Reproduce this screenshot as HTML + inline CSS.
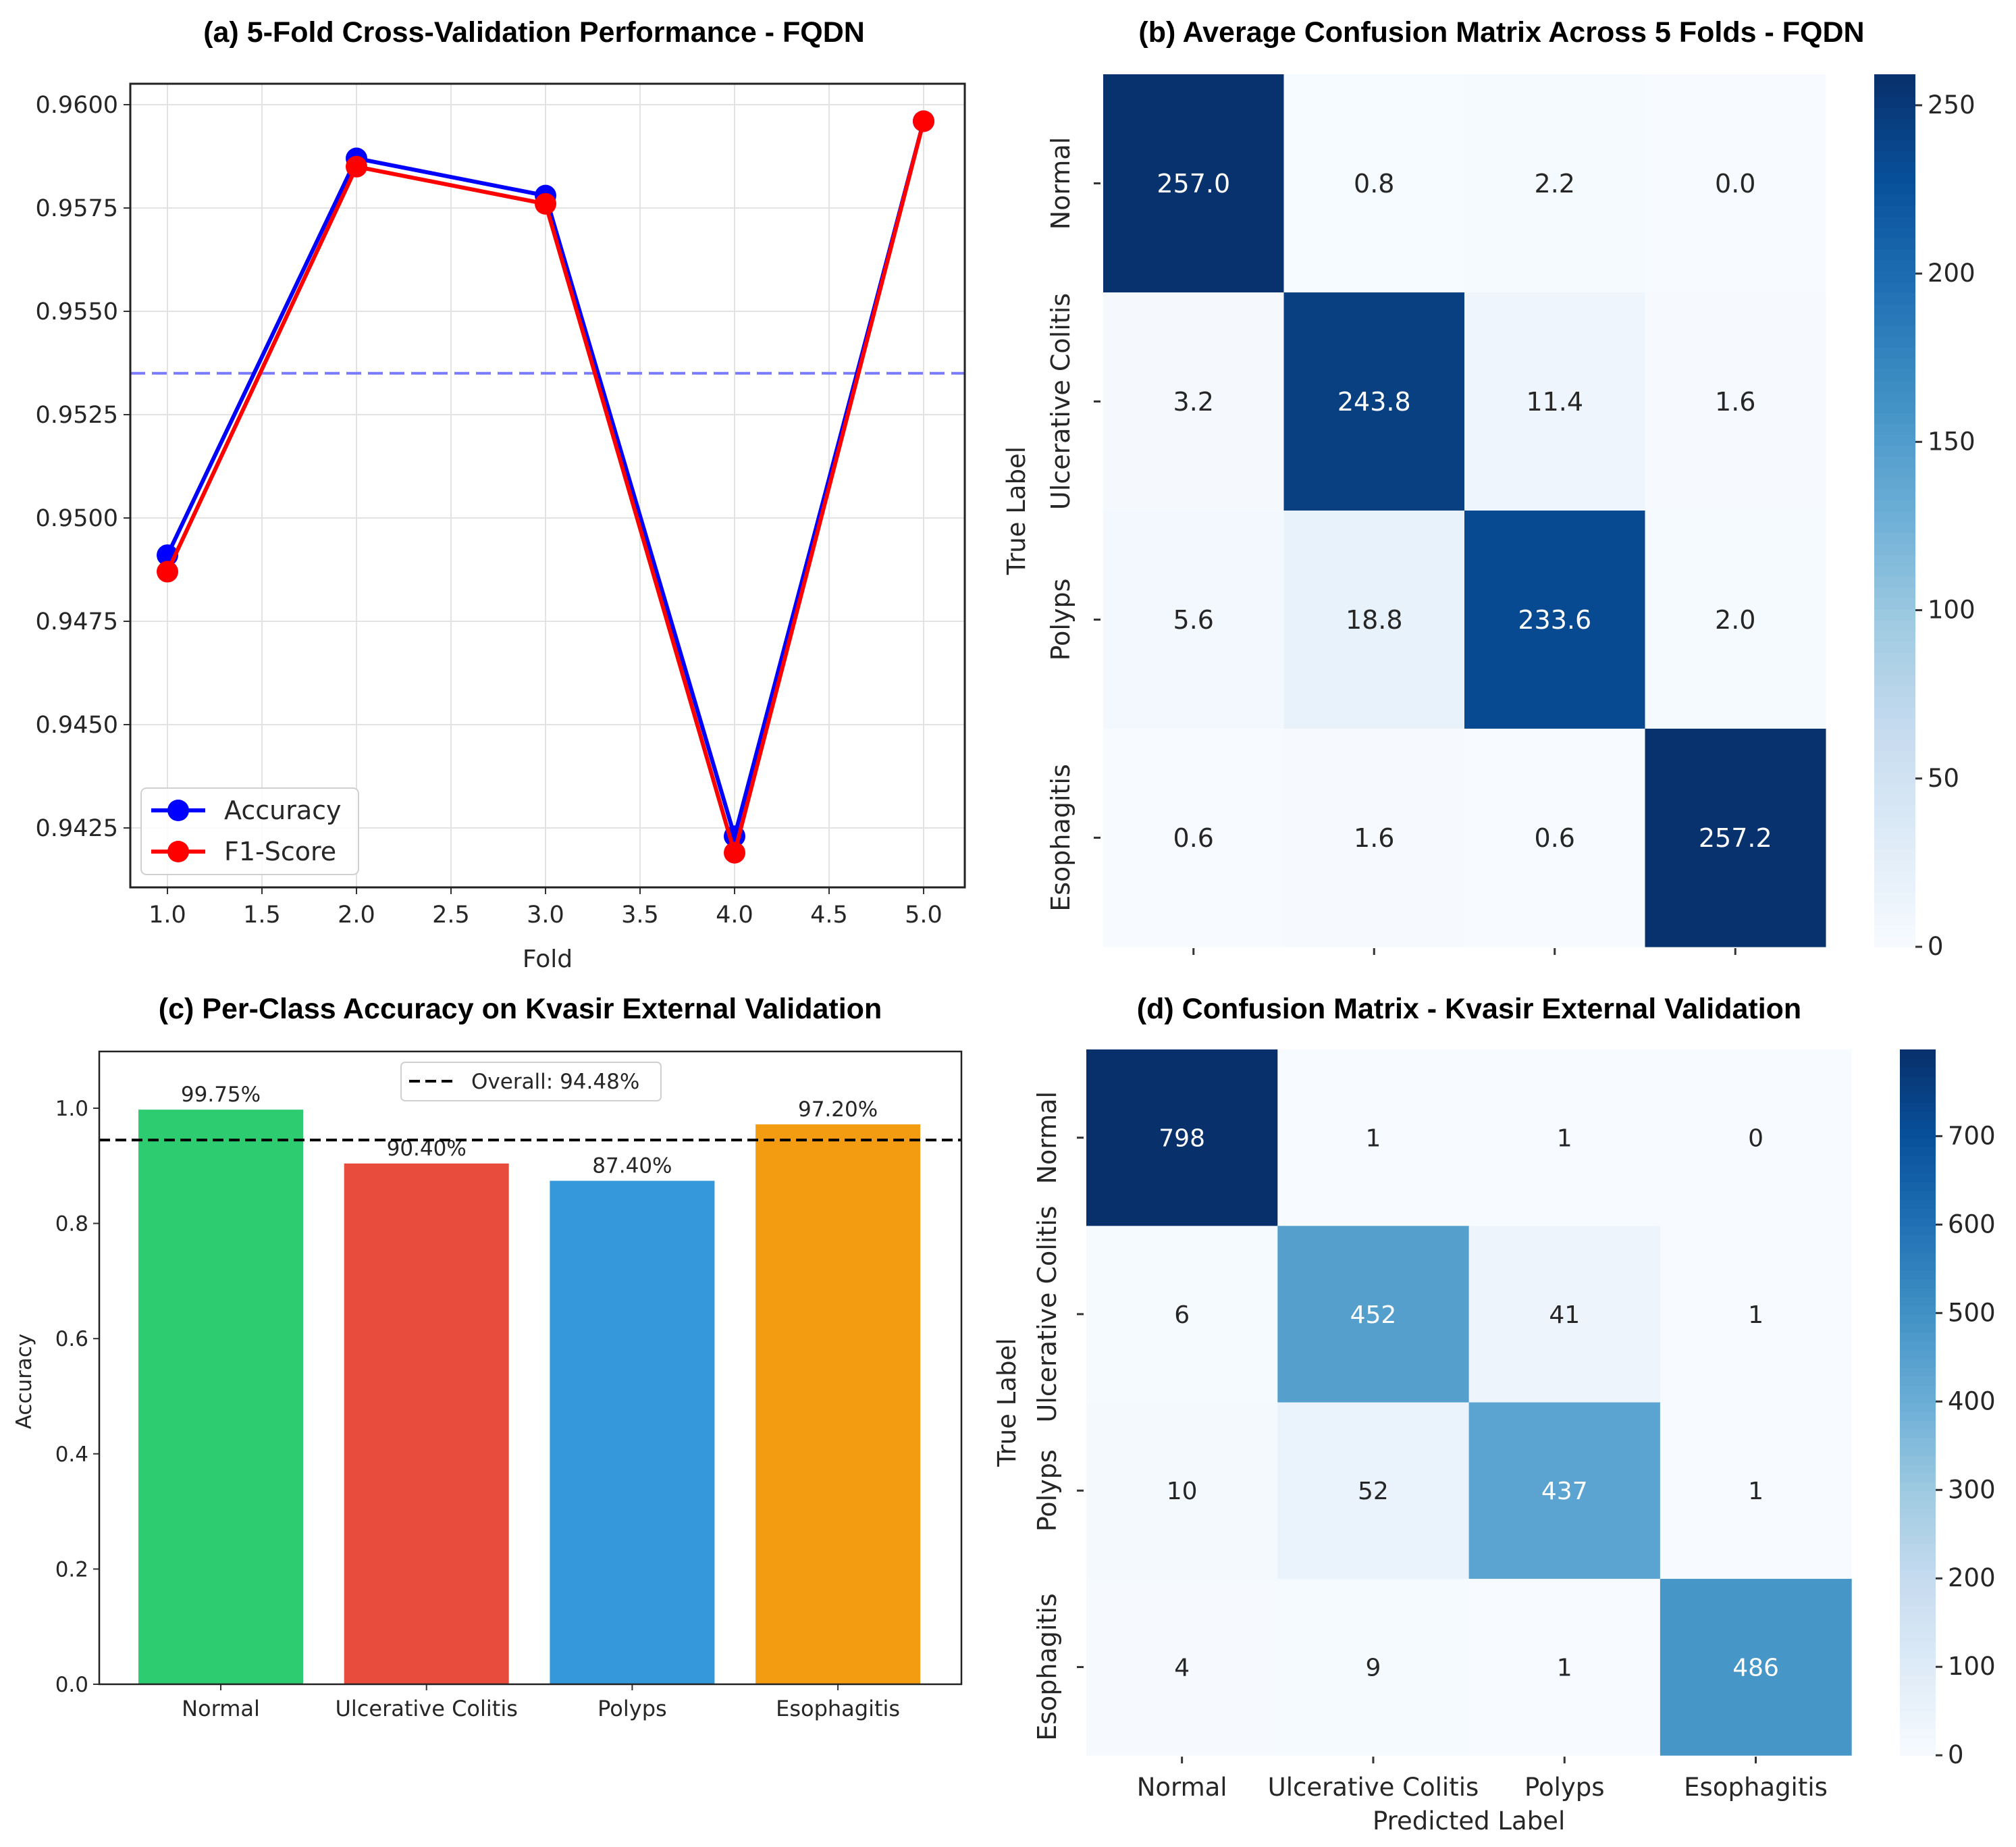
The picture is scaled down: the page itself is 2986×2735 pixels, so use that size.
<!DOCTYPE html>
<html><head><meta charset="utf-8"><style>
html,body{margin:0;padding:0;background:#fff;}
svg{display:block;}
text{font-family:"DejaVu Sans","Liberation Sans",sans-serif;fill:#262626;}
.t{font-family:"Liberation Sans",sans-serif;font-weight:bold;font-size:43px;fill:#000;}
</style></head><body>
<svg id="s" width="2986" height="2735" xmlns="http://www.w3.org/2000/svg"></svg>
<script>
// ---- data ----
const folds=[1,2,3,4,5];
const accVals=[0.9491,0.9587,0.9578,0.9423,0.9596];
const f1Vals=[0.9487,0.9585,0.9576,0.9419,0.9596];
const meanAcc=0.9535;
const aYTicks=[0.9425,0.9450,0.9475,0.9500,0.9525,0.9550,0.9575,0.9600];
const aXTicks=[1.0,1.5,2.0,2.5,3.0,3.5,4.0,4.5,5.0];
const classes=["Normal","Ulcerative Colitis","Polyps","Esophagitis"];
const cmB=[[257.0,0.8,2.2,0.0],[3.2,243.8,11.4,1.6],[5.6,18.8,233.6,2.0],[0.6,1.6,0.6,257.2]];
const cbBTicks=[0,50,100,150,200,250];
const perClassAcc=[0.9975,0.9040,0.8740,0.9720];
const perClassLabels=["99.75%","90.40%","87.40%","97.20%"];
const overallAcc=0.9448;
const cYTicks=[0.0,0.2,0.4,0.6,0.8,1.0];
const cmD=[[798,1,1,0],[6,452,41,1],[10,52,437,1],[4,9,1,486]];
const cbDTicks=[0,100,200,300,400,500,600,700];

const NS="http://www.w3.org/2000/svg";
const svg=document.getElementById('s');
function el(tag,attrs,parent,txt){const e=document.createElementNS(NS,tag);for(const k in attrs)e.setAttribute(k,attrs[k]);if(txt!==undefined)e.textContent=txt;(parent||svg).appendChild(e);return e;}
const stops=[[247,251,255],[222,235,247],[198,219,239],[158,202,225],[107,174,214],[66,146,198],[33,113,181],[8,81,156],[8,48,107]];
function blues(t){t=Math.max(0,Math.min(1,t))*8;const i=Math.min(7,Math.floor(t)),f=t-i;const a=stops[i],b=stops[i+1];return `rgb(${a.map((v,k)=>Math.round(v+(b[k]-v)*f)).join(',')})`;}

// ---- Panel A ----
const gA=el('g',{});

const ax={l:193,r:1429,t:124,b:1314};
const xA=v=>248+(v-1)*280, yA=v=>155+(0.96-v)/0.0025*153;
let tt=el('text',{class:'t',x:(ax.l+ax.r)/2-20,y:62,'text-anchor':'middle'},gA,'(a) 5-Fold Cross-Validation Performance - FQDN');

aXTicks.forEach(v=>{el('line',{x1:xA(v),x2:xA(v),y1:ax.t,y2:ax.b,stroke:'#e3e3e3','stroke-width':2},gA);el('line',{x1:xA(v),x2:xA(v),y1:ax.b,y2:ax.b+10,stroke:'#333','stroke-width':2},gA);
 const t=el('text',{x:xA(v),y:ax.b+52,'text-anchor':'middle','font-size':35},gA,v.toFixed(1));});
aYTicks.forEach(v=>{el('line',{x1:ax.l,x2:ax.r,y1:yA(v),y2:yA(v),stroke:'#e3e3e3','stroke-width':2},gA);el('line',{x1:ax.l-10,x2:ax.l,y1:yA(v),y2:yA(v),stroke:'#333','stroke-width':2},gA);
 const t=el('text',{x:ax.l-18,y:yA(v)+12,'text-anchor':'end','font-size':35},gA,v.toFixed(4));});
let ml=el('line',{x1:ax.l,x2:ax.r,y1:yA(meanAcc),y2:yA(meanAcc),stroke:'#7b7bff','stroke-width':4,'stroke-dasharray':'22,10'},gA);

[[accVals,'#0000ff','accuracy'],[f1Vals,'#ff0000','f1-score']].forEach(([vals,c,n])=>{
 const p=el('polyline',{points:vals.map((v,i)=>xA(folds[i])+','+yA(v)).join(' '),fill:'none',stroke:c,'stroke-width':6},gA);
 
 vals.forEach((v,i)=>{const m=el('circle',{cx:xA(folds[i]),cy:yA(v),r:16,fill:c},gA);});
});
el('rect',{x:ax.l,y:ax.t,width:ax.r-ax.l,height:ax.b-ax.t,fill:'none',stroke:'#222','stroke-width':3},gA);
let lg=el('g',{},gA);
el('rect',{x:209,y:1167,width:322,height:128,rx:8,fill:'#fff','fill-opacity':0.85,stroke:'#d0d0d0','stroke-width':2},lg);
[['Accuracy','#0000ff',1200],['F1-Score','#ff0000',1261]].forEach(([n,c,y])=>{el('line',{x1:224,x2:304,y1:y,y2:y,stroke:c,'stroke-width':6},lg);el('circle',{cx:264,cy:y,r:16,fill:c},lg);const t=el('text',{x:332,y:y+13,'font-size':38},lg,n);});
let xl=el('text',{x:811,y:1432,'text-anchor':'middle','font-size':36},gA,'Fold');

// ---- Heatmap helper ----
function heat(name,m,x0,y0,cw,ch,vmax,cb,cbTicks,fmt,fs,showXLabels,title,titleX,ylabX,yticklabX){
 const g=el('g',{});
 const t=el('text',{class:'t',x:titleX,y:title[1],'text-anchor':'middle'},g,title[0]);
 m.forEach((row,i)=>row.forEach((v,j)=>{
  const r=el('rect',{x:x0+j*cw,y:y0+i*ch,width:cw+0.5,height:ch+0.5,fill:blues(v/vmax)},g);
  const tx=el('text',{x:x0+j*cw+cw/2,y:y0+i*ch+ch/2+fs*0.36,'text-anchor':'middle','font-size':fs,style:'fill:'+(v/vmax>0.5?'#fff':'#262626')},g,fmt(v));
 }));
 const W=cw*4,H=ch*4;
 classes.forEach((c,i)=>{
  el('line',{x1:x0+i*cw+cw/2,x2:x0+i*cw+cw/2,y1:y0+H+2,y2:y0+H+12,stroke:'#333','stroke-width':3},g);
  el('line',{x1:x0-14,x2:x0-4,y1:y0+i*ch+ch/2,y2:y0+i*ch+ch/2,stroke:'#333','stroke-width':3},g);
  const yl=el('text',{x:yticklabX,y:y0+i*ch+ch/2,'text-anchor':'middle','font-size':38,transform:`rotate(-90 ${yticklabX} ${y0+i*ch+ch/2})`},g,c);
  if(showXLabels){const xl=el('text',{x:x0+i*cw+cw/2,y:y0+H+60,'text-anchor':'middle','font-size':37},g,c);}
 });
 const yl=el('text',{x:ylabX,y:y0+H/2,'text-anchor':'middle','font-size':37,transform:`rotate(-90 ${ylabX} ${y0+H/2})`},g,'True Label');
 if(showXLabels){const p=el('text',{x:x0+W/2,y:y0+H+110,'text-anchor':'middle','font-size':37},g,'Predicted Label');}
 const cg=el('g',{},g);
 const n=80;for(let k=0;k<n;k++){el('rect',{x:cb.x,y:y0+H-(k+1)*H/n,width:cb.w,height:H/n+1,fill:blues((k+0.5)/n)},cg);}
 cbTicks.forEach(v=>{const yy=y0+H-v/vmax*H;el('line',{x1:cb.x+cb.w,x2:cb.x+cb.w+10,y1:yy,y2:yy,stroke:'#333','stroke-width':3},cg);const t=el('text',{x:cb.x+cb.w+18,y:yy+12,'font-size':37},cg,String(v));});
}
heat('panel-b-confusion-matrix',cmB,1634,110,267.5,323,259.2,{x:2776,w:61},cbBTicks,v=>v.toFixed(1),38,false,
 ['(b) Average Confusion Matrix Across 5 Folds - FQDN',62],2224,1518,1584);
heat('panel-d-confusion-matrix',cmD,1609,1554,283.3,261.3,798,{x:2814,w:53},cbDTicks,v=>String(v),36,true,
 ['(d) Confusion Matrix - Kvasir External Validation',1508],2176,1504,1564);

// ---- Panel C ----
const gC=el('g',{});
const cx={l:147,r:1424,t:1557,b:2494};
const xC=i=>327+i*304.7, yC=v=>cx.b-v*853;
let tc=el('text',{class:'t',x:(cx.l+cx.r)/2-15,y:1508,'text-anchor':'middle'},gC,'(c) Per-Class Accuracy on Kvasir External Validation');
cYTicks.forEach(v=>{el('line',{x1:cx.l-9,x2:cx.l,y1:yC(v),y2:yC(v),stroke:'#333','stroke-width':2},gC);const t=el('text',{x:cx.l-16,y:yC(v)+11,'text-anchor':'end','font-size':31},gC,v.toFixed(1));});
const cols=['#2ecc71','#e74c3c','#3498db','#f39c12'];
perClassAcc.forEach((v,i)=>{
 const b=el('rect',{x:xC(i)-122,y:yC(v),width:244,height:cx.b-yC(v),fill:cols[i]},gC);
 const t=el('text',{x:xC(i),y:yC(v)-12,'text-anchor':'middle','font-size':31},gC,perClassLabels[i]);
 el('line',{x1:xC(i),x2:xC(i),y1:cx.b,y2:cx.b+9,stroke:'#333','stroke-width':2},gC);
 const xl=el('text',{x:xC(i),y:cx.b+47,'text-anchor':'middle','font-size':32},gC,classes[i]);
});
let ol=el('line',{x1:cx.l,x2:cx.r,y1:yC(overallAcc),y2:yC(overallAcc),stroke:'#000','stroke-width':4,'stroke-dasharray':'16,8'},gC);
el('rect',{x:cx.l,y:cx.t,width:cx.r-cx.l,height:cx.b-cx.t,fill:'none',stroke:'#222','stroke-width':2.5},gC);
let lc=el('g',{},gC);
el('rect',{x:594,y:1573,width:385,height:57,rx:6,fill:'#fff','fill-opacity':0.85,stroke:'#d0d0d0','stroke-width':2},lc);
el('line',{x1:606,x2:672,y1:1601,y2:1601,stroke:'#000','stroke-width':4,'stroke-dasharray':'16,8'},lc);
let le=el('text',{x:698,y:1612,'font-size':31},lc,'Overall: 94.48%');
let yt=el('text',{x:46,y:(cx.t+cx.b)/2+20,'text-anchor':'middle','font-size':31,transform:`rotate(-90 46 ${(cx.t+cx.b)/2+20})`},gC,'Accuracy');
</script>
</body></html>
